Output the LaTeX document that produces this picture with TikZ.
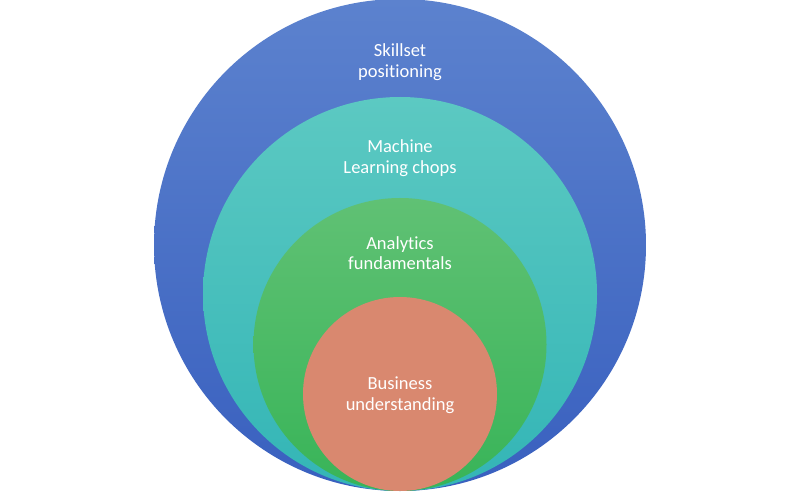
\documentclass[tikz,border=0pt]{standalone}
\usepackage{fontspec}
\setmainfont[Ligatures={NoCommon}]{Carlito}
\usepackage{xcolor}
\usetikzlibrary{positioning}

\definecolor{blueTop}{HTML}{5C82CE}
\definecolor{blueBot}{HTML}{3960BF}
\definecolor{tealTop}{HTML}{5CC9C2}
\definecolor{tealBot}{HTML}{33B5B6}
\definecolor{greenTop}{HTML}{60C174}
\definecolor{greenBot}{HTML}{38B458}
\definecolor{salmon}{HTML}{D9886F}

\tikzset{
    ring/.style={circle, inner sep=0pt, outer sep=0pt},
    ringtext/.style={text=white, align=center, font=\fontsize{18.5}{20.5}\selectfont}
}

\begin{document}
\begin{tikzpicture}[x=1pt, y=1pt]
            \useasboundingbox (0,0) rectangle (800,493);

            % Nested circles, all touching at the bottom
            \node[ring, minimum size=492pt, top color=blueTop, bottom color=blueBot] (Skill) at (400,248) {};
            \node[ring, minimum size=394pt, top color=tealTop, bottom color=tealBot] (ML) at (400,199) {};
            \node[ring, minimum size=293pt, top color=greenTop, bottom color=greenBot] (Analytics) at (400,148.5) {};
            \node[ring, minimum size=194pt, fill=salmon] (Business) at (400,99) {};

            % Labels
            \node[ringtext] (SkillLbl) at (400,431) {Skillset\\positioning};
            \node[ringtext] (MLLbl) at (400,335) {Machine\\Learning chops};
            \node[ringtext] (AnalyticsLbl) at (400,240) {Analytics\\fundamentals};
            \node[ringtext] (BusinessLbl) at (400,98) {Business\\understanding};
        \end{tikzpicture}
\end{document}
